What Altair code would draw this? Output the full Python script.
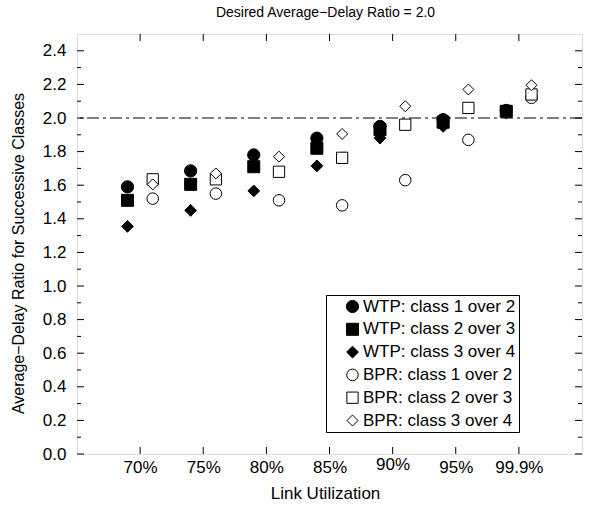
import altair as alt
import pandas as pd
import numpy as np

# ---------------- data ----------------
utilization = ["70%", "75%", "80%", "85%", "90%", "95%", "99.9%"]
series_names = [
    "WTP: class 1 over 2",
    "WTP: class 2 over 3",
    "WTP: class 3 over 4",
    "BPR: class 1 over 2",
    "BPR: class 2 over 3",
    "BPR: class 3 over 4",
]
series_proto = ["WTP", "WTP", "WTP", "BPR", "BPR", "BPR"]
wtp_1_2 = [1.59, 1.685, 1.78, 1.88, 1.95, 1.99, 2.045]
wtp_2_3 = [1.51, 1.605, 1.71, 1.82, 1.93, 1.975, 2.04]
wtp_3_4 = [1.355, 1.45, 1.566, 1.715, 1.88, 1.95, 2.03]
bpr_1_2 = [1.52, 1.55, 1.51, 1.48, 1.63, 1.87, 2.12]
bpr_2_3 = [1.635, 1.635, 1.68, 1.763, 1.96, 2.06, 2.14]
bpr_3_4 = [1.605, 1.67, 1.77, 1.905, 2.07, 2.17, 2.195]
series_values = [wtp_1_2, wtp_2_3, wtp_3_4, bpr_1_2, bpr_2_3, bpr_3_4]
target_ratio = 2.0

rows = []
for name, proto, vals in zip(series_names, series_proto, series_values):
    for i, (u, v) in enumerate(zip(utilization, vals)):
        rows.append({"util": u, "idx": i + 1, "series": name, "proto": proto, "ratio": v})
df = pd.DataFrame(rows)

W, H = 505, 420
FONT = "Liberation Sans"
FS = 17

x_scale = alt.Scale(domain=[0, len(utilization) + 1], nice=False, zero=False)
y_scale = alt.Scale(domain=[0, 2.5], nice=False, zero=False)

label_list = "[" + ",".join("'" + u + "'" for u in utilization) + "]"
label_expr = label_list + "[round(datum.value) - 1]"

x_axis = alt.Axis(
    title="Link Utilization", values=list(range(1, len(utilization) + 1)),
    labelExpr=label_expr, grid=False, ticks=False, domain=False,
    labelFont=FONT, labelFontSize=FS, labelColor="black",
    labelBaseline="top",
    labelPadding={"condition": {"test": "datum.value == 5", "value": 2}, "value": 5},
    titleFont=FONT, titleFontSize=FS, titleFontWeight="normal", titleColor="black",
    titleX=248, titleY=39, titleBaseline="middle", titleAlign="center")
y_axis = alt.Axis(
    title="Average\u2212Delay Ratio for Successive Classes",
    values=[round(v, 1) for v in np.arange(0, 2.41, 0.2)], format=".1f",
    grid=False, ticks=False, domain=False,
    labelFont=FONT, labelFontSize=FS, labelColor="black", labelPadding=11,
    titleFont=FONT, titleFontSize=16, titleFontWeight="normal", titleColor="black",
    titleX=-59, titleY=219, titleAngle=270, titleBaseline="middle", titleAlign="center")

# tick data
xt = pd.DataFrame({"xpos": list(range(1, len(utilization) + 1))})
y_major = pd.DataFrame({"ratio": np.round(np.arange(0, 2.41, 0.2), 2)})
y_minor = pd.DataFrame({"ratio": np.round(np.arange(0.1, 2.5, 0.2), 2)})

def xticks(y0, y1):
    return alt.Chart(xt).mark_rule(color="black", strokeWidth=1).encode(
        x=alt.X("xpos:Q", scale=x_scale, axis=x_axis),
        y=alt.value(y0), y2=alt.value(y1))

def yticks(d, x0, x1):
    return alt.Chart(d).mark_rule(color="black", strokeWidth=1).encode(
        y=alt.Y("ratio:Q", scale=y_scale, axis=y_axis),
        x=alt.value(x0), x2=alt.value(x1))

tick_layers = [
    xticks(H, H - 7), xticks(0, 7),
    yticks(y_major, 0, 7), yticks(y_minor, 0, 4),
    yticks(y_major, W, W - 7), yticks(y_minor, W, W - 4),
]

ref = alt.Chart(pd.DataFrame({"ratio": [target_ratio]})).mark_rule(
    color="black", strokeWidth=1, strokeDash=[12, 4, 3, 4]
).encode(y=alt.Y("ratio:Q", scale=y_scale, axis=y_axis))

shape_range = ["circle", "square", "diamond", "circle", "square", "diamond"]
fill_range = ["black", "black", "black", "white", "white", "white"]
stroke_range = ["black"] * 6
size_range = [150, 121, 165, 150, 121, 165]

legend = alt.Legend(
    title=None, orient="none", legendX=249, legendY=261,
    fillColor="white", strokeColor="black",
    padding=3, symbolOffset=15, rowPadding=4.8, labelOffset=2,
    labelFont=FONT, labelFontSize=FS, labelColor="black",
    labelExpr="datum.label + '\u00a0\u00a0'",
    symbolStrokeWidth=1, labelLimit=300)

points = alt.Chart(df).transform_calculate(
    xpos="datum.idx + (datum.proto == 'WTP' ? -0.2 : 0.2)"
).mark_point(filled=True, opacity=1, strokeWidth=1).encode(
    x=alt.X("xpos:Q", scale=x_scale, axis=x_axis),
    y=alt.Y("ratio:Q", scale=y_scale, axis=y_axis),
    shape=alt.Shape("series:N", scale=alt.Scale(domain=series_names, range=shape_range), legend=legend),
    fill=alt.Fill("series:N", scale=alt.Scale(domain=series_names, range=fill_range), legend=legend),
    stroke=alt.Stroke("series:N", scale=alt.Scale(domain=series_names, range=stroke_range), legend=legend),
    size=alt.Size("series:N", scale=alt.Scale(domain=series_names, range=size_range), legend=legend),
)

chart = alt.layer(*tick_layers, ref, points).properties(
    width=W, height=H,
    title=alt.TitleParams("Desired Average\u2212Delay Ratio = 2.0", font=FONT, fontSize=14,
                          fontWeight="normal", color="black", anchor="middle",
                          baseline="bottom", offset=0, dx=-4),
    autosize=alt.AutoSizeParams(type="none"),
    padding={"left": 77, "top": 34, "right": 7, "bottom": 53},
).configure_view(
    stroke="black", strokeWidth=1.5
).configure(background="white")

chart.save("out.html", embed_options={"renderer": "svg", "actions": False})
